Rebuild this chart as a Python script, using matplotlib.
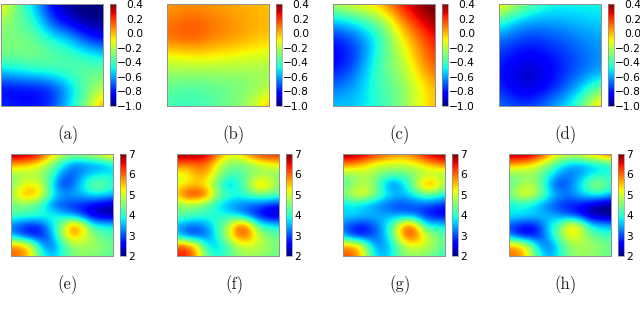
"""Potential fields: four panels on top, four panels below, each with a colorbar."""

import numpy as np
import matplotlib
matplotlib.use('Agg')
import matplotlib.pyplot as plt

# top row, rows run from top to bottom of each panel
field_a = [[0.00, -0.35, -0.55, -0.85, -1.00, -1.00, -1.00],
           [-0.25, -0.33, -0.45, -0.75, -0.88, -1.00, -1.00],
           [-0.30, -0.30, -0.33, -0.48, -0.55, -0.75, -0.85],
           [-0.30, -0.30, -0.30, -0.33, -0.38, -0.45, -0.50],
           [-0.55, -0.50, -0.45, -0.42, -0.38, -0.33, -0.33],
           [-0.85, -0.85, -0.85, -0.80, -0.60, -0.35, -0.20],
           [-0.75, -0.80, -0.80, -0.75, -0.50, -0.30, 0.10]]
field_b = [[0.03, 0.05, 0.05, 0.03, 0.02, 0.00, -0.02],
           [0.08, 0.13, 0.13, 0.08, 0.05, 0.02, 0.00],
           [0.12, 0.16, 0.14, 0.08, 0.05, 0.00, -0.02],
           [-0.10, -0.08, -0.06, -0.08, -0.10, -0.12, -0.15],
           [-0.25, -0.25, -0.25, -0.25, -0.25, -0.25, -0.25],
           [-0.35, -0.38, -0.38, -0.35, -0.32, -0.28, -0.20],
           [-0.38, -0.42, -0.40, -0.35, -0.30, -0.20, 0.05]]
field_c = [[-0.20, -0.10, -0.05, 0.05, 0.25, 0.38, 0.45],
           [-0.55, -0.50, -0.40, -0.25, 0.05, 0.25, 0.38],
           [-0.80, -0.72, -0.60, -0.40, -0.10, 0.08, 0.27],
           [-0.85, -0.80, -0.60, -0.35, -0.20, 0.03, 0.20],
           [-0.80, -0.72, -0.52, -0.35, -0.25, -0.05, 0.12],
           [-0.65, -0.62, -0.50, -0.38, -0.30, -0.15, 0.00],
           [-0.55, -0.55, -0.50, -0.40, -0.30, -0.12, 0.00]]
field_d = [[0.00, -0.20, -0.35, -0.45, -0.47, -0.47, -0.47],
           [-0.40, -0.55, -0.60, -0.60, -0.58, -0.55, -0.53],
           [-0.65, -0.72, -0.75, -0.72, -0.68, -0.63, -0.60],
           [-0.75, -0.82, -0.85, -0.80, -0.75, -0.68, -0.62],
           [-0.80, -0.90, -0.92, -0.85, -0.75, -0.68, -0.60],
           [-0.75, -0.88, -0.88, -0.80, -0.68, -0.50, -0.30],
           [-0.65, -0.72, -0.72, -0.62, -0.50, -0.30, 0.05]]

# bottom row
field_e = [[7.0, 7.0, 6.9, 6.4, 5.6, 5.0, 4.8, 4.9, 5.1, 5.4, 5.8],
           [5.7, 5.6, 5.4, 5.1, 4.5, 3.9, 3.3, 3.2, 3.3, 3.4, 3.7],
           [4.6, 4.7, 4.7, 4.6, 4.2, 3.3, 3.0, 3.4, 3.7, 3.8, 3.8],
           [4.5, 5.0, 5.3, 5.0, 3.8, 2.8, 3.1, 3.8, 4.5, 4.5, 4.0],
           [4.7, 5.6, 5.8, 5.3, 4.0, 3.5, 3.5, 3.6, 3.8, 3.8, 3.6],
           [4.4, 4.5, 4.3, 3.9, 3.2, 2.9, 2.8, 2.7, 2.5, 2.3, 2.2],
           [4.3, 4.2, 4.2, 4.1, 4.0, 3.7, 3.3, 2.8, 2.3, 2.1, 2.1],
           [3.2, 2.9, 2.7, 2.9, 3.7, 4.6, 6.0, 5.5, 4.0, 3.9, 3.8],
           [3.5, 2.9, 2.6, 2.7, 3.4, 4.7, 5.7, 5.3, 4.7, 4.3, 4.2],
           [5.9, 5.9, 5.2, 3.5, 3.1, 3.9, 4.6, 4.7, 4.7, 4.6, 4.4],
           [6.0, 5.9, 5.2, 4.1, 3.6, 4.0, 4.5, 4.6, 4.5, 4.4, 4.2]]
field_f = [[7.0, 7.0, 7.0, 6.7, 6.0, 5.4, 5.4, 5.9, 6.4, 6.5, 6.5],
           [6.0, 5.9, 6.0, 5.9, 5.1, 4.5, 4.4, 4.6, 4.9, 5.1, 5.3],
           [5.0, 5.1, 5.7, 5.6, 4.8, 4.3, 4.2, 4.4, 4.6, 4.6, 4.5],
           [5.1, 5.3, 5.4, 5.1, 4.3, 3.4, 3.9, 4.6, 5.8, 5.3, 4.6],
           [5.6, 6.4, 6.5, 6.0, 4.6, 4.2, 4.0, 4.2, 4.4, 4.4, 4.3],
           [4.5, 4.6, 4.5, 4.2, 3.7, 3.4, 3.2, 3.1, 3.0, 2.8, 2.7],
           [4.4, 4.3, 4.2, 4.1, 4.0, 3.9, 3.5, 3.0, 2.6, 2.2, 2.1],
           [3.5, 3.2, 3.1, 3.4, 4.1, 4.7, 6.2, 5.9, 4.1, 3.9, 3.8],
           [3.6, 2.9, 2.9, 3.2, 4.0, 5.0, 6.0, 6.0, 5.0, 4.5, 4.3],
           [6.2, 6.2, 5.4, 3.8, 3.6, 4.2, 4.8, 5.0, 4.9, 4.7, 4.5],
           [6.4, 6.4, 5.5, 4.3, 3.9, 4.2, 4.6, 4.7, 4.6, 4.5, 4.3]]
field_g = [[7.0, 7.0, 6.8, 6.5, 6.2, 5.9, 5.8, 6.1, 6.6, 6.9, 7.0],
           [5.9, 5.8, 5.5, 5.1, 5.0, 5.0, 5.0, 5.1, 5.4, 5.7, 6.0],
           [4.5, 4.6, 4.8, 4.7, 4.4, 4.3, 4.3, 4.5, 4.7, 4.7, 4.6],
           [4.3, 4.5, 4.9, 4.6, 3.6, 3.1, 3.7, 4.6, 5.9, 5.8, 4.8],
           [4.5, 5.1, 5.3, 4.7, 4.1, 3.7, 3.6, 3.9, 4.3, 4.2, 3.9],
           [3.6, 3.7, 3.5, 3.3, 3.1, 2.9, 2.9, 3.0, 3.0, 2.9, 2.7],
           [3.8, 3.8, 3.7, 3.6, 3.5, 3.4, 3.2, 3.1, 2.7, 2.5, 2.4],
           [3.2, 2.8, 2.7, 3.0, 3.6, 4.4, 6.0, 5.9, 4.0, 3.8, 3.8],
           [3.4, 2.7, 2.6, 3.0, 3.4, 4.6, 6.0, 6.2, 5.2, 4.6, 4.3],
           [5.8, 5.8, 5.1, 3.5, 3.3, 3.9, 4.8, 5.1, 5.0, 4.6, 4.3],
           [6.1, 6.1, 5.2, 3.9, 3.5, 4.0, 4.6, 4.6, 4.5, 4.3, 4.0]]
field_h = [[7.0, 7.0, 7.0, 6.5, 5.8, 5.3, 5.2, 5.3, 5.7, 6.0, 6.3],
           [5.7, 5.6, 5.4, 5.0, 4.5, 3.9, 3.5, 3.4, 3.6, 3.7, 4.0],
           [4.4, 4.5, 4.6, 4.4, 3.9, 3.4, 3.2, 3.4, 3.7, 3.9, 3.9],
           [4.3, 4.6, 4.9, 4.5, 3.4, 2.8, 3.2, 3.8, 4.6, 4.8, 4.1],
           [4.5, 5.1, 5.3, 4.6, 3.9, 3.4, 3.3, 3.6, 3.9, 3.9, 3.6],
           [3.7, 3.8, 3.7, 3.4, 3.1, 2.8, 2.7, 2.6, 2.3, 2.05, 2.0],
           [3.9, 3.9, 3.8, 3.7, 3.5, 3.3, 2.9, 2.6, 2.1, 2.0, 2.0],
           [3.0, 2.7, 2.6, 2.9, 3.8, 4.3, 5.6, 5.1, 3.8, 3.6, 3.5],
           [3.2, 2.6, 2.5, 2.8, 3.7, 4.6, 5.3, 5.0, 4.5, 4.2, 4.1],
           [5.8, 5.7, 4.9, 3.5, 3.1, 3.9, 4.6, 4.8, 4.7, 4.6, 4.4],
           [5.9, 5.9, 5.0, 4.0, 3.4, 4.0, 4.5, 4.7, 4.6, 4.5, 4.3]]

top_ticks = [-1.0, -0.8, -0.6, -0.4, -0.2, 0.0, 0.2, 0.4]
bottom_ticks = [2, 3, 4, 5, 6, 7]
top_captions = ['(a)', '(b)', '(c)', '(d)']
bottom_captions = ['(e)', '(f)', '(g)', '(h)']

W, H = 640, 314
fig = plt.figure(figsize=(W / 100, H / 100), dpi=100)


def add_box(x0, y0, x1, y1):
    """axes from pixel box, y measured from the top"""
    return fig.add_axes([x0 / W, 1 - y1 / H, (x1 - x0) / W, (y1 - y0) / H])


def draw_panel(field, left, top, caption, cap_x, vmin, vmax, ticks, top_row):
    ax = add_box(left, top, left + 102, top + 102)
    n = len(field) - 1
    im = ax.imshow(field, cmap='jet', vmin=vmin, vmax=vmax, aspect='auto',
                   interpolation='bicubic')
    # grid values were read at the panel edges, so crop to the first and last cell centres
    ax.set_xlim(0, n)
    ax.set_ylim(n, 0)
    ax.set_xticks([])
    ax.set_yticks([])
    for s in ax.spines.values():
        s.set_color('#909090')
        s.set_linewidth(0.7)

    cax = add_box(left + 109, top, left + 115, top + 102)
    cb = fig.colorbar(im, cax=cax, ticks=ticks)
    cb.outline.set_edgecolor('#909090')
    cb.outline.set_linewidth(0.5)
    if top_row:
        # labels are right aligned so the minus signs touch the bar
        cax.tick_params(length=0, labelsize=7.7, pad=19.5)
        for t in cax.get_yticklabels():
            t.set_ha('right')
    else:
        cax.tick_params(length=0, labelsize=7.7, pad=1.5)

    fig.text(cap_x / W, 1 - (top + 131) / H, caption,
             family='cmr10', fontsize=12, color='#222222', ha='center', va='center')


top_fields = [field_a, field_b, field_c, field_d]
bottom_fields = [field_e, field_f, field_g, field_h]
top_lefts = [1, 167, 333, 499]
bottom_lefts = [11, 177, 343, 509]
caption_xs = [68, 234, 400, 566]

for field, left, caption, cap_x in zip(top_fields, top_lefts, top_captions, caption_xs):
    draw_panel(field, left, 4, caption, cap_x, -1.0, 0.4, top_ticks, True)
for field, left, caption, cap_x in zip(bottom_fields, bottom_lefts, bottom_captions, caption_xs):
    draw_panel(field, left, 154, caption, cap_x, 2, 7, bottom_ticks, False)

plt.savefig('out.png', dpi=100)
